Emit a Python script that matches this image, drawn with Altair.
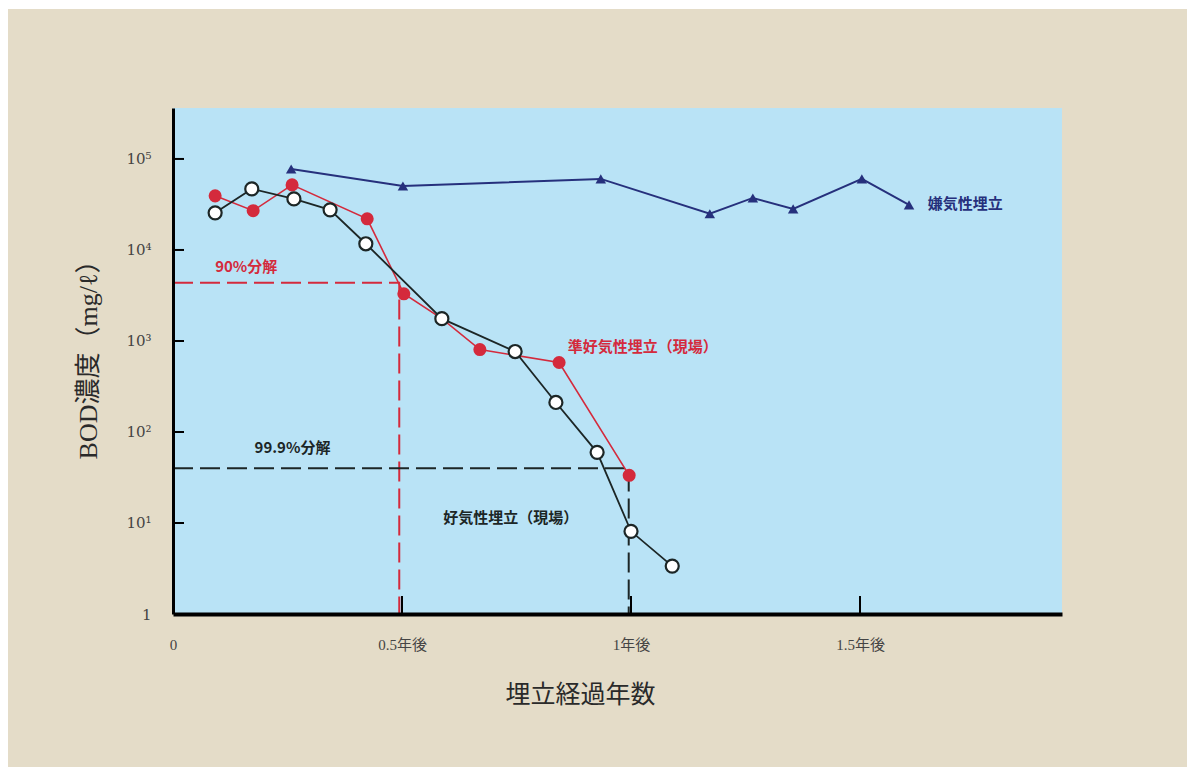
import altair as alt
import pandas as pd

# ---- data (years since landfill, BOD mg/L) ----
anaer_x = [0.258, 0.502, 0.934, 1.172, 1.266, 1.354, 1.504, 1.607]
anaer_y = [77600, 50400, 60400, 25000, 37300, 28300, 60400, 31300]

semi_x = [0.092, 0.175, 0.260, 0.424, 0.504, 0.587, 0.670, 0.843, 0.996]
semi_y = [39300, 27000, 51900, 22000, 3300, 1760, 805, 580, 33.4]

aer_x = [0.092, 0.172, 0.264, 0.343, 0.421, 0.587, 0.747, 0.836, 0.926, 1.000, 1.090]
aer_y = [25600, 46900, 36400, 27600, 11700, 1760, 766, 211, 59.8, 8.1, 3.36]

# 90% / 99.9% decomposition guide lines
red_guide_x = [0.0, 0.494, 0.494]
red_guide_y = [4370, 4370, 1]
blk_guide_x = [0.0, 0.995, 0.995]
blk_guide_y = [40, 40, 1]

y_tick_values = [1, 10, 100, 1000, 10000, 100000]
x_tick_values = [0, 0.5, 1, 1.5]

label_text = ["90%分解", "99.9%分解", "準好気性埋立（現場）", "好気性埋立（現場）", "嫌気性埋立"]
label_x = [0.092, 0.178, 0.862, 0.590, 1.648]
label_y = [6540, 66, 850, 11.3, 32100]
label_kind = ["red", "black", "red", "black", "navy"]

RED = "#d42a3c"
NAVY = "#26307c"
BLACK = "#1c2626"
BLUE_BG = "#b9e3f6"
BEIGE = "#e4dcc8"

W, H = 889, 506
LEFT, TOP = 173, 108

xs = alt.Scale(domain=[0, 1.941], nice=False, zero=False)
ys = alt.Scale(type="log", domain=[1, 363000], nice=False)

anaer = pd.DataFrame({"x": anaer_x, "y": anaer_y})
semi = pd.DataFrame({"x": semi_x, "y": semi_y})
aer = pd.DataFrame({"x": aer_x, "y": aer_y})
rg = pd.DataFrame({"x": red_guide_x, "y": red_guide_y, "o": [0, 1, 2]})
bg = pd.DataFrame({"x": blk_guide_x, "y": blk_guide_y, "o": [0, 1, 2]})
labels = pd.DataFrame({"t": label_text, "x": label_x, "y": label_y, "k": label_kind})
yt = pd.DataFrame({"y": y_tick_values[1:]})
xt = pd.DataFrame({"x": x_tick_values[1:]})

X = alt.X("x:Q", scale=xs, axis=alt.Axis(
    values=x_tick_values, title="埋立経過年数",
    labelExpr="datum.value == 0 ? '0' : datum.value + '年後'",
    ticks=False, grid=False, domainColor="black", domainWidth=4,
    labelFont="Liberation Serif, Noto Sans CJK JP", labelFontSize=15, labelColor="#444444",
    labelPadding=23, labelFlush=False,
    titleFont="Liberation Serif, Noto Sans CJK JP", titleFontSize=25, titleFontWeight="normal",
    titleColor="#2a2a2a", titleX=407, titleY=80, titleBaseline="middle", titleAlign="center",
    zindex=1))
Y = alt.Y("y:Q", scale=ys, axis=alt.Axis(
    values=y_tick_values, title="BOD濃度（mg/ℓ）",
    labelExpr="datum.value == 1 ? '1' : '10' + ['','¹','²','³','⁴','⁵'][round(log(datum.value)/LN10)]",
    ticks=False, grid=False, domainColor="black", domainWidth=3,
    labelFont="DejaVu Serif, Liberation Serif", labelFontSize=15, labelColor="#444444",
    labelPadding=22,
    titleFont="Liberation Serif, Noto Sans CJK JP", titleFontSize=26, titleFontWeight="normal",
    titleColor="#2a2a2a", titleX=-85, titleY=245, titleBaseline="middle", titleAlign="center",
    zindex=1))

# white page strip (top and left)
white_top = alt.Chart(pd.DataFrame({"a": [0]})).mark_rect(color="white").encode(
    x=alt.value(-LEFT), x2=alt.value(1187 - LEFT), y=alt.value(-TOP), y2=alt.value(-TOP + 9))
white_left = alt.Chart(pd.DataFrame({"a": [0]})).mark_rect(color="white").encode(
    x=alt.value(-LEFT), x2=alt.value(-LEFT + 8), y=alt.value(-TOP), y2=alt.value(767 - TOP))

ytick = alt.Chart(yt).mark_rule(color="black", strokeWidth=2).encode(
    y=alt.Y("y:Q", scale=ys), x=alt.value(0), x2=alt.value(11))
xtick = alt.Chart(xt).mark_rule(color="black", strokeWidth=2).encode(
    x=alt.X("x:Q", scale=xs), y=alt.value(H), y2=alt.value(H - 18))

red_guide = alt.Chart(rg).mark_line(color=RED, strokeWidth=2, strokeDash=[20, 7]).encode(
    x=alt.X("x:Q", scale=xs), y=alt.Y("y:Q", scale=ys), order="o:Q")
blk_guide = alt.Chart(bg).mark_line(color=BLACK, strokeWidth=2, strokeDash=[20, 7]).encode(
    x=alt.X("x:Q", scale=xs), y=alt.Y("y:Q", scale=ys), order="o:Q")

anaer_line = alt.Chart(anaer).mark_line(color=NAVY, strokeWidth=2).encode(x=X, y=Y)
anaer_pts = alt.Chart(anaer).mark_point(shape="triangle-up", filled=True, color=NAVY, size=110, opacity=1).encode(
    x=alt.X("x:Q", scale=xs), y=alt.Y("y:Q", scale=ys))

semi_line = alt.Chart(semi).mark_line(color=RED, strokeWidth=1.6).encode(
    x=alt.X("x:Q", scale=xs), y=alt.Y("y:Q", scale=ys))
semi_pts = alt.Chart(semi).mark_point(shape="circle", filled=True, color=RED, size=170, opacity=1).encode(
    x=alt.X("x:Q", scale=xs), y=alt.Y("y:Q", scale=ys))

aer_line = alt.Chart(aer).mark_line(color=BLACK, strokeWidth=1.8).encode(
    x=alt.X("x:Q", scale=xs), y=alt.Y("y:Q", scale=ys))
aer_pts = alt.Chart(aer).mark_point(shape="circle", filled=True, fill="white", stroke=BLACK,
                                    strokeWidth=2.2, size=170, opacity=1).encode(
    x=alt.X("x:Q", scale=xs), y=alt.Y("y:Q", scale=ys))

texts = alt.Chart(labels).mark_text(align="left", baseline="middle", font="Noto Sans CJK JP",
                                    fontSize=15, fontWeight="bold").encode(
    x=alt.X("x:Q", scale=xs), y=alt.Y("y:Q", scale=ys), text="t:N",
    color=alt.Color("k:N", scale=alt.Scale(domain=["red", "black", "navy"], range=[RED, BLACK, NAVY]),
                    legend=None))

chart = alt.layer(
    anaer_line, white_top, white_left, red_guide, blk_guide, ytick, xtick,
    semi_line, aer_line, anaer_pts, semi_pts, aer_pts, texts
).properties(
    width=W, height=H,
    autosize=alt.AutoSizeParams(type="none"),
    padding={"left": LEFT, "top": TOP, "right": 1187 - LEFT - W, "bottom": 767 - TOP - H},
    background=BEIGE,
).configure_view(fill=BLUE_BG, stroke=None)

chart.save("out.html", embed_options={"renderer": "svg", "actions": False})
